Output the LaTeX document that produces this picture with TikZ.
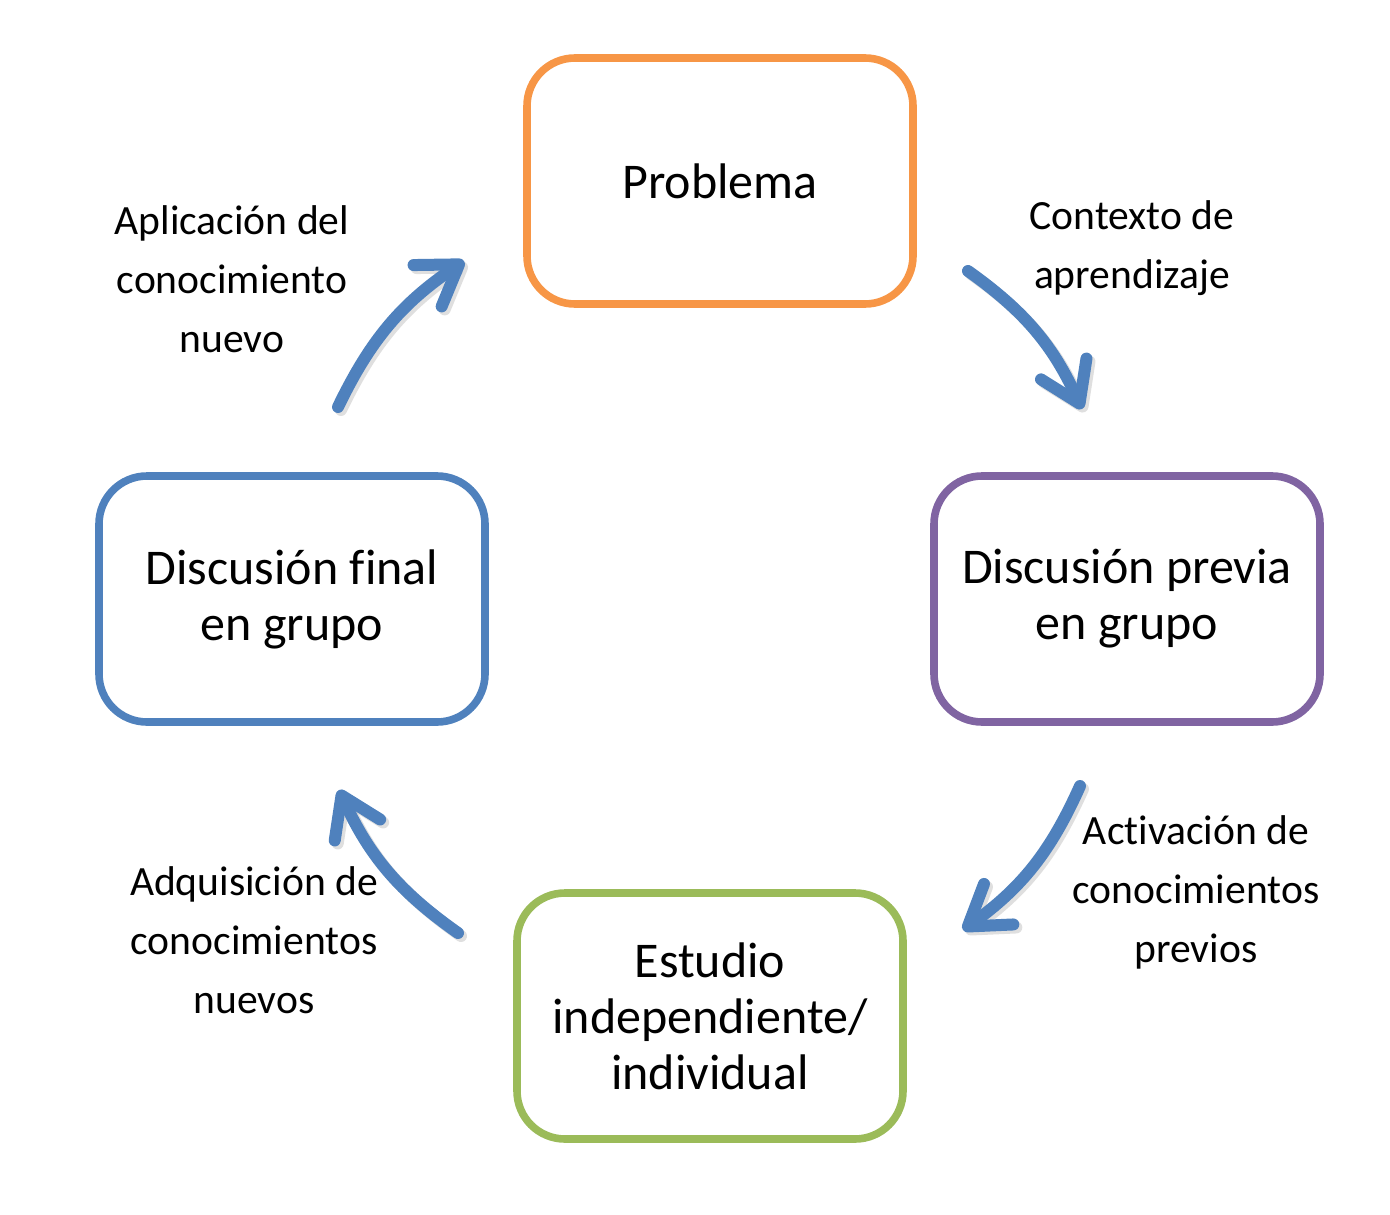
\documentclass[tikz,border=0pt]{standalone}
\usepackage{fontspec}
\setmainfont{Carlito}[Ligatures=CommonOff]
\usetikzlibrary{arrows.meta}
\definecolor{orangeB}{HTML}{F79646}
\definecolor{purpleB}{HTML}{8064A2}
\definecolor{greenB}{HTML}{9BBB59}
\definecolor{blueB}{HTML}{4F81BD}
\tikzset{
  stagebox/.style={draw, line width=3.8pt, rounded corners=24pt, fill=white,
    minimum width=193pt, minimum height=123pt, align=center, inner sep=0pt,
    font=\fontsize{25pt}{28pt}\selectfont},
  lbl/.style={align=center, inner sep=0pt, font=\fontsize{20.8pt}{29.5pt}\selectfont},
  cyc/.style={draw=blueB, line width=6pt, line cap=round, line join=round,
    -{Straight Barb[length=19pt,width=25pt,line cap=round,line join=round]}},
  cycshadow/.style={draw=black!25, opacity=0.5, line width=6pt, line cap=round,
    -{Straight Barb[length=19pt,width=25pt,line cap=round,line join=round]}}
}
\begin{document}
\begin{tikzpicture}[x=0.5pt,y=-0.5pt]
\useasboundingbox (0,0) rectangle (1390,1214);
\node[stagebox, draw=orangeB] (prob) at (720,181) {Problema};
\node[stagebox, draw=purpleB] (prev) at (1127,599) {Discusión previa\\en grupo};
\node[stagebox, draw=greenB] (est) at (710,1016) {Estudio\\independiente/\\individual};
\node[stagebox, draw=blueB] (fin) at (292,599) {Discusión final\\en grupo};

\node[lbl] (l1) at (232,279) {Aplicación del\\conocimiento\\nuevo};
\node[lbl] (l2) at (1132,248) {Contexto de\\aprendizaje};
\node[lbl] (l3) at (1196,892) {Activación de\\conocimientos\\previos};
\node[lbl] (l4) at (254,940) {Adquisición de\\conocimientos\\nuevos};

\coordinate (a1s) at (338,407);
\coordinate (a1e) at (464,261);
\coordinate (a2s) at (968,271);
\coordinate (a2e) at (1082,409);
\coordinate (a3s) at (1080,786);
\coordinate (a3e) at (963,930);
\coordinate (a4s) at (458,933);
\coordinate (a4e) at (339,790);

\foreach \s/\e in {a1s/a1e,a2s/a2e,a3s/a3e,a4s/a4e}{
  \draw[cycshadow] ([shift={(3,3)}]\s) to[bend left=15] ([shift={(3,3)}]\e);
  \draw[cyc] (\s) to[bend left=15] (\e);
}
\end{tikzpicture}
\end{document}
